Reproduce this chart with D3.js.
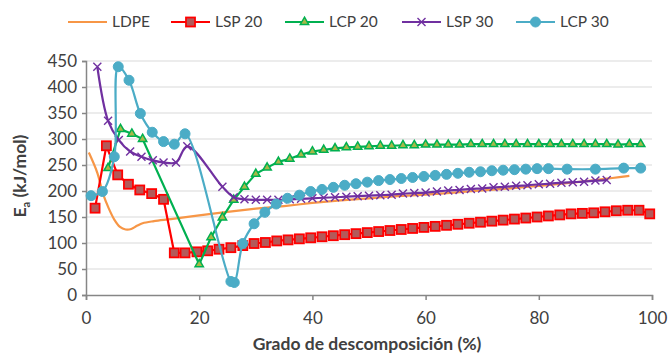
<!DOCTYPE html>
<html>
<head>
<meta charset="utf-8">
<script src="https://cdn.jsdelivr.net/npm/d3@7"></script>
<style>
  body { margin: 0; background: #fff; }
  text { font-family: Lato, "Noto Sans", sans-serif; fill: #404040; }
</style>
</head>
<body>
<svg id="chart" width="669" height="358"></svg>
<script>
// data
const ldpeX = [0.5, 2, 3, 4, 5, 6, 7, 8, 9, 10, 12, 15, 20, 25, 30, 35, 40, 45, 50, 55, 60, 65, 70, 75, 80, 85, 90, 93, 96];
const ldpeY = [274, 235, 195, 167, 145, 131, 126, 127, 133, 138, 142, 146, 153, 160, 166, 171, 177, 182, 186, 190, 193, 197, 201, 205, 210, 215, 221, 225, 229];

const lsp20X = [1.6, 3.6, 5.6, 7.5, 9.5, 11.6, 13.7, 15.6, 17.5, 19.6, 21.5, 23.5, 25.6, 27.7, 29.7, 31.7, 33.7, 35.7, 37.7,
  39.7, 41.7, 43.7, 45.7, 47.7, 49.7, 51.7, 53.7, 55.7, 57.7, 59.7, 61.7, 63.7, 65.7, 67.7, 69.7, 71.7, 73.7, 75.7, 77.7,
  79.7, 81.7, 83.7, 85.7, 87.7, 89.7, 91.7, 93.7, 95.7, 97.7, 99.6];
const lsp20Y = [167, 287, 231, 213, 202, 195, 184, 81, 81, 83, 85, 88, 91, 95, 99, 101, 104, 106, 108,
  110, 112, 114, 116, 118, 120, 122, 124, 126, 128, 130, 132, 134, 136, 138, 140, 142, 144, 146, 148,
  150, 152, 154, 156, 157, 158, 160, 162, 163, 163, 156];

const lcp20X = [3.9, 6.1, 8.1, 10, 20, 22.1, 24.1, 26.1, 28, 30, 32, 34, 36, 38, 40, 42, 44, 46, 48, 50, 52, 54, 56, 58,
  60, 62, 64, 66, 68, 70, 72, 74, 76, 78, 80, 82, 84, 86, 88, 90, 92, 94, 96, 98];
const lcp20Y = [244, 319, 310, 300, 59, 111, 149, 183, 208, 233, 245, 256, 262, 270, 276, 279, 282, 284, 285, 286, 287, 287,
  288, 288, 289, 289, 289, 289, 290, 290, 290, 290, 290, 290, 290, 290, 290, 290, 290, 290, 290, 289, 290, 290];

const lsp30X = [2, 3.9, 5.8, 7.8, 9.8, 11.8, 13.7, 15.9, 17.9, 24.1, 26.1, 28, 30, 32, 34, 36, 38, 40, 42, 44, 46, 48, 50,
  52, 54, 56, 58, 60, 62, 64, 66, 68, 70, 72, 74, 76, 78, 80, 82, 84, 86, 88, 90, 92];
const lsp30Y = [439, 335, 298, 276, 266, 259, 255, 255, 286, 208, 188, 184, 183, 183, 183, 184, 185, 186, 187, 188, 189, 190, 191,
  192, 193, 195, 196, 197, 199, 201, 202, 204, 205, 207, 208, 210, 211, 213, 214, 216, 217, 218, 220, 221];

const lcp30X = [0.9, 2.9, 5, 5.7, 7.6, 9.6, 11.7, 13.7, 15.6, 17.5, 25.6, 26.2, 27.7, 29.7, 31.6, 33.6, 35.6, 37.7,
  39.7, 41.7, 43.7, 45.7, 47.7, 49.7, 51.7, 53.7, 55.7, 57.7, 59.7, 61.7, 63.7, 65.7, 67.7, 69.7, 71.7, 73.7, 75.7,
  77.7, 79.7, 81.7, 85, 90, 95, 98];
const lcp30Y = [191, 199, 266, 439, 413, 349, 313, 295, 290, 310, 26, 24, 99, 137, 159, 175, 186, 192,
  199, 203, 207, 211, 214, 217, 220, 222, 224, 226, 228, 230, 232, 234, 236, 237, 239, 240, 241,
  242, 243, 243, 242, 242, 244, 244];

const xTicks = [0, 20, 40, 60, 80, 100];
const yTicks = [0, 50, 100, 150, 200, 250, 300, 350, 400, 450];

const svg = d3.select("#chart");
const x = d3.scaleLinear().domain([0, 100]).range([86, 652]);
const y = d3.scaleLinear().domain([0, 450]).range([295, 61]);

// gridlines
svg.append("g").selectAll("line").data(yTicks.slice(1)).enter().append("line")
  .attr("x1", x(0)).attr("x2", x(100))
  .attr("y1", d => y(d)).attr("y2", d => y(d))
  .attr("stroke", "#d9d9d9").attr("stroke-width", 1);

// axes
const axisColor = "#868686";
const yAxis = svg.append("g").attr("transform", `translate(${x(0)},0)`)
  .call(d3.axisLeft(y).tickValues(yTicks).tickSize(4).tickPadding(5));
const xAxis = svg.append("g").attr("transform", `translate(0,${y(0)})`)
  .call(d3.axisBottom(x).tickValues(xTicks).tickSize(5).tickPadding(12));
[xAxis, yAxis].forEach(a => {
  a.select(".domain").attr("stroke", axisColor).attr("stroke-width", 1.5);
  a.selectAll(".tick line").attr("stroke", axisColor).attr("stroke-width", 1.5);
  a.selectAll(".tick text").style("font-size", "17px").attr("fill", "#404040")
    .style("font-family", "Lato, 'Noto Sans', sans-serif");
});

// series
function zip(xs, ys) { return xs.map((d, i) => [d, ys[i]]); }
const series = [
  {name: "LDPE", data: zip(ldpeX, ldpeY), color: "#f79646", marker: null, curve: d3.curveCatmullRom},
  {name: "LSP 20", data: zip(lsp20X, lsp20Y), color: "#ff0000", marker: "square", curve: d3.curveLinear},
  {name: "LCP 20", data: zip(lcp20X, lcp20Y), color: "#00b050", marker: "triangle", curve: d3.curveLinear},
  {name: "LSP 30", data: zip(lsp30X, lsp30Y), color: "#7030a0", marker: "x", curve: d3.curveCatmullRom},
  {name: "LCP 30", data: zip(lcp30X, lcp30Y), color: "#4bacc6", marker: "circle", curve: d3.curveCatmullRom}
];

function drawMarker(g, type, color, px, py) {
  if (type === "square") {
    g.append("rect").attr("x", px - 4.5).attr("y", py - 4.5).attr("width", 9).attr("height", 9)
      .attr("fill", "#b35a5a").attr("stroke", color).attr("stroke-width", 1.8);
  } else if (type === "triangle") {
    g.append("path").attr("d", d3.symbol(d3.symbolTriangle, 30)())
      .attr("transform", `translate(${px},${py})`)
      .attr("fill", "#a8b848").attr("stroke", color).attr("stroke-width", 1.5);
  } else if (type === "x") {
    g.append("path").attr("d", "M-4,-4L4,4M-4,4L4,-4")
      .attr("transform", `translate(${px},${py})`)
      .attr("stroke", color).attr("stroke-width", 1.4).attr("fill", "none");
  } else if (type === "circle") {
    g.append("circle").attr("cx", px).attr("cy", py).attr("r", 5)
      .attr("fill", color).attr("stroke", color).attr("stroke-width", 1);
  }
}

series.forEach(s => {
  const g = svg.append("g");
  const line = d3.line().x(d => x(d[0])).y(d => y(d[1])).curve(s.curve);
  g.append("path").datum(s.data).attr("d", line)
    .attr("fill", "none").attr("stroke", s.color).attr("stroke-width", 2.2);
  if (s.marker) s.data.forEach(d => drawMarker(g, s.marker, s.color, x(d[0]), y(d[1])));
});

// legend
const legendX = [68, 171, 285, 402, 516];
series.forEach((s, i) => {
  const g = svg.append("g").attr("transform", `translate(${legendX[i]},22)`);
  g.append("line").attr("x1", 0).attr("x2", 39).attr("y1", 0).attr("y2", 0)
    .attr("stroke", s.color).attr("stroke-width", 2.2);
  if (s.marker) drawMarker(g, s.marker, s.color, 19.5, 0);
  g.append("text").attr("x", 44).attr("y", 0).attr("dy", "0.35em")
    .style("font-size", "15.5px").text(s.name);
});

// axis titles
svg.append("text").attr("x", 367).attr("y", 350).attr("text-anchor", "middle")
  .style("font-size", "17.5px").style("font-weight", "bold").text("Grado de descomposición (%)");

const yt = svg.append("text").attr("transform", "translate(26,176) rotate(-90)")
  .attr("text-anchor", "middle").style("font-size", "17.5px").style("font-weight", "bold");
yt.append("tspan").text("E");
yt.append("tspan").attr("dy", 4).style("font-size", "11px").text("a");
yt.append("tspan").attr("dy", -4).text(" (kJ/mol)");
</script>
</body>
</html>
